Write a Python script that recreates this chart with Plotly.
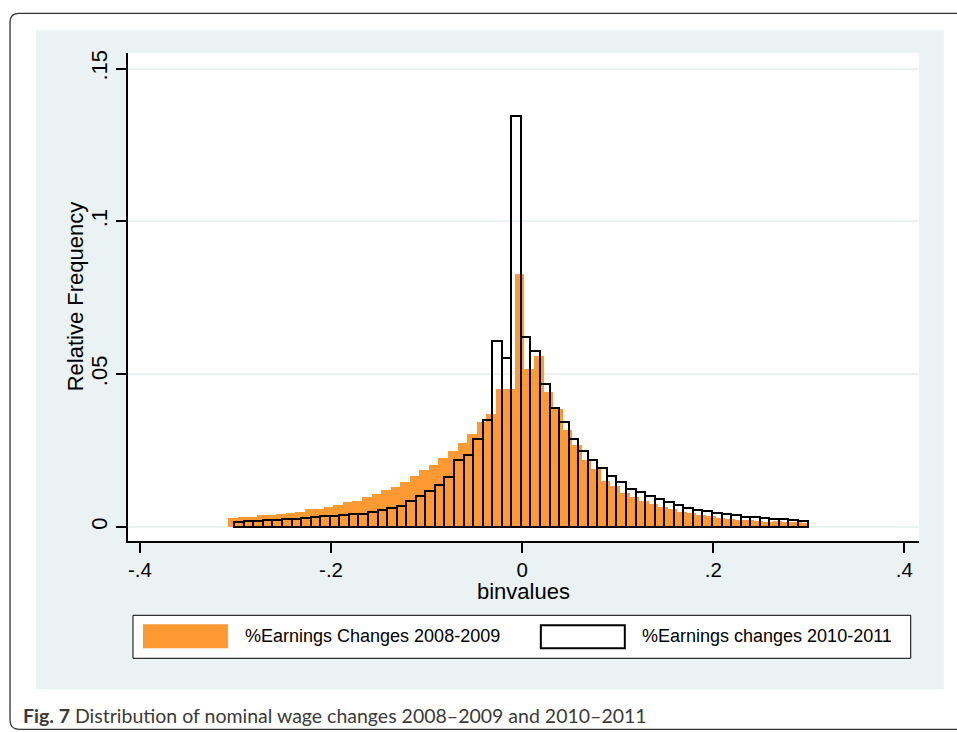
import plotly.graph_objects as go

# ---------------- data ----------------
orange_bins = [round(-0.3026 + 0.01 * k, 4) for k in range(60)] + [0.2961]
orange_vals = [0.0029, 0.0032, 0.0033, 0.0039, 0.0039, 0.0042, 0.0047, 0.0049, 0.0060, 0.0060,
               0.0065, 0.0072, 0.0082, 0.0086, 0.0098, 0.0108, 0.0121, 0.0131, 0.0147, 0.0167,
               0.0186, 0.0203, 0.0225, 0.0248, 0.0275, 0.0305, 0.0344, 0.0370, 0.0451, 0.0451,
               0.0827, 0.0518, 0.0560, 0.0442, 0.0386, 0.0318, 0.0268, 0.0219, 0.0190, 0.0150,
               0.0134, 0.0110, 0.0098, 0.0085, 0.0075, 0.0065, 0.0059, 0.0049, 0.0047, 0.0038,
               0.0036, 0.0031, 0.0027, 0.0024, 0.0022, 0.0021, 0.0016, 0.0019, 0.0016, 0.0016,
               0.0014]

black_bins = [round(-0.2963 + 0.01 * k, 4) for k in range(60)]
black_vals = [0.0016, 0.0020, 0.0020, 0.0022, 0.0022, 0.0025, 0.0027, 0.0029, 0.0032, 0.0035,
              0.0036, 0.0039, 0.0042, 0.0044, 0.0050, 0.0056, 0.0063, 0.0070, 0.0084, 0.0100,
              0.0117, 0.0139, 0.0162, 0.0219, 0.0235, 0.0289, 0.0350, 0.0608, 0.0552, 0.1345,
              0.0622, 0.0575, 0.0468, 0.0391, 0.0345, 0.0287, 0.0248, 0.0220, 0.0192, 0.0168,
              0.0147, 0.0126, 0.0115, 0.0102, 0.0093, 0.0082, 0.0071, 0.0063, 0.0057, 0.0051,
              0.0047, 0.0042, 0.0038, 0.0034, 0.0032, 0.0029, 0.0027, 0.0025, 0.0022, 0.0020]

x_tickvals = [-0.4, -0.2, 0, 0.2, 0.4]
x_ticktext = ["-.4", "-.2", "0", ".2", ".4"]
y_tickvals = [0, 0.05, 0.1, 0.15]
y_ticktext = ["0", ".05", ".1", ".15"]

series_names = ["%Earnings Changes 2008-2009", "%Earnings changes 2010-2011"]
caption = "<b>Fig. 7</b> Distribution of nominal wage changes 2008\u20132009 and 2010\u20132011"

# ---------------- styling / layout ----------------
W, H = 957, 732
L, R, T, B = 128, 919.3, 52.7, 540.7
ORANGE = "#ff9a33"
BG = "#eaf2f3"
FONT = "Liberation Sans, Arial, Helvetica, sans-serif"


def px(x):
    return (x - L) / (R - L)


def py(y):
    return (B - y) / (B - T)


orange_w = [0.01] * 60 + [0.006]

fig = go.Figure()
fig.add_trace(go.Bar(x=orange_bins, y=orange_vals, width=orange_w,
                     marker=dict(color=ORANGE, line=dict(width=0)),
                     name=series_names[0], showlegend=False))
fig.add_trace(go.Bar(x=black_bins, y=black_vals, width=0.01,
                     marker=dict(color="rgba(0,0,0,0)", line=dict(color="black", width=2)),
                     name=series_names[1], showlegend=False))

shapes = []
# gray graph region
shapes.append(dict(type="rect", xref="paper", yref="paper", layer="below",
                   x0=px(36), x1=px(944), y0=py(689), y1=py(30),
                   fillcolor=BG, line=dict(width=0)))
# white plot region
shapes.append(dict(type="rect", xref="paper", yref="paper", layer="below",
                   x0=0, x1=1, y0=0, y1=1, fillcolor="white", line=dict(width=0)))
# outer rounded frame
pts = ("M {a},{b} L {c},{b} Q {d},{b} {d},{e} L {d},{f} Q {d},{g} {c},{g} L {a},{g}").format(
    a=px(975), b=py(13), c=px(19), d=px(10), e=py(22), f=py(720), g=py(729))
shapes.append(dict(type="path", xref="paper", yref="paper", path=pts,
                   line=dict(color="#333333", width=1.3)))
# legend box
shapes.append(dict(type="rect", xref="paper", yref="paper",
                   x0=px(133), x1=px(911), y0=py(658), y1=py(615),
                   fillcolor="white", line=dict(color="black", width=1)))
shapes.append(dict(type="rect", xref="paper", yref="paper",
                   x0=px(143), x1=px(228), y0=py(648), y1=py(624),
                   fillcolor=ORANGE, line=dict(width=0)))
shapes.append(dict(type="rect", xref="paper", yref="paper",
                   x0=px(541), x1=px(625), y0=py(648), y1=py(625),
                   fillcolor="white", line=dict(color="black", width=2)))

annotations = [
    dict(text=series_names[0], xref="paper", yref="paper", x=px(243), y=py(636),
         xanchor="left", yanchor="middle", showarrow=False,
         font=dict(family=FONT, size=18, color="black")),
    dict(text=series_names[1], xref="paper", yref="paper", x=px(640), y=py(636),
         xanchor="left", yanchor="middle", showarrow=False,
         font=dict(family=FONT, size=18, color="black")),
    dict(text=caption, xref="paper", yref="paper", x=px(21), y=py(715),
         xanchor="left", yanchor="middle", showarrow=False,
         font=dict(family="Lato, Open Sans, sans-serif", size=19.5, color="#3a3a3a")),
    dict(text="Relative Frequency", xref="paper", yref="paper", x=px(75), y=py(296),
         xanchor="center", yanchor="middle", textangle=-90, showarrow=False,
         font=dict(family=FONT, size=22, color="black")),
    dict(text="binvalues", xref="paper", yref="paper", x=0.5, y=py(591),
         xanchor="center", yanchor="middle", showarrow=False,
         font=dict(family=FONT, size=22, color="black")),
]

fig.update_layout(
    width=W, height=H,
    margin=dict(l=L, r=W - R, t=T, b=H - B, pad=0),
    paper_bgcolor="white", plot_bgcolor="white",
    barmode="overlay", bargap=0,
    shapes=shapes, annotations=annotations,
    font=dict(family=FONT, size=21, color="black"),
    xaxis=dict(range=[-0.4125, 0.4153], tickvals=x_tickvals, ticktext=x_ticktext,
               showgrid=False, zeroline=False, showline=True, linecolor="black", linewidth=1.5,
               ticks="outside", ticklen=10, tickwidth=1.5, tickcolor="black",
               tickfont=dict(family=FONT, size=20.5, color="black")),
    yaxis=dict(range=[-0.00458, 0.1551], tickvals=y_tickvals, ticktext=y_ticktext,
               showgrid=True, gridcolor=BG, gridwidth=2, zeroline=False,
               showline=True, linecolor="black", linewidth=1.5,
               ticks="outside", ticklen=10, tickwidth=1.5, tickcolor="black", tickangle=-90,
               tickfont=dict(family=FONT, size=22, color="black")),
)

fig.write_html("out.html", config={"displayModeBar": False},
               post_script="document.body.style.margin='0';document.body.style.padding='0';")
